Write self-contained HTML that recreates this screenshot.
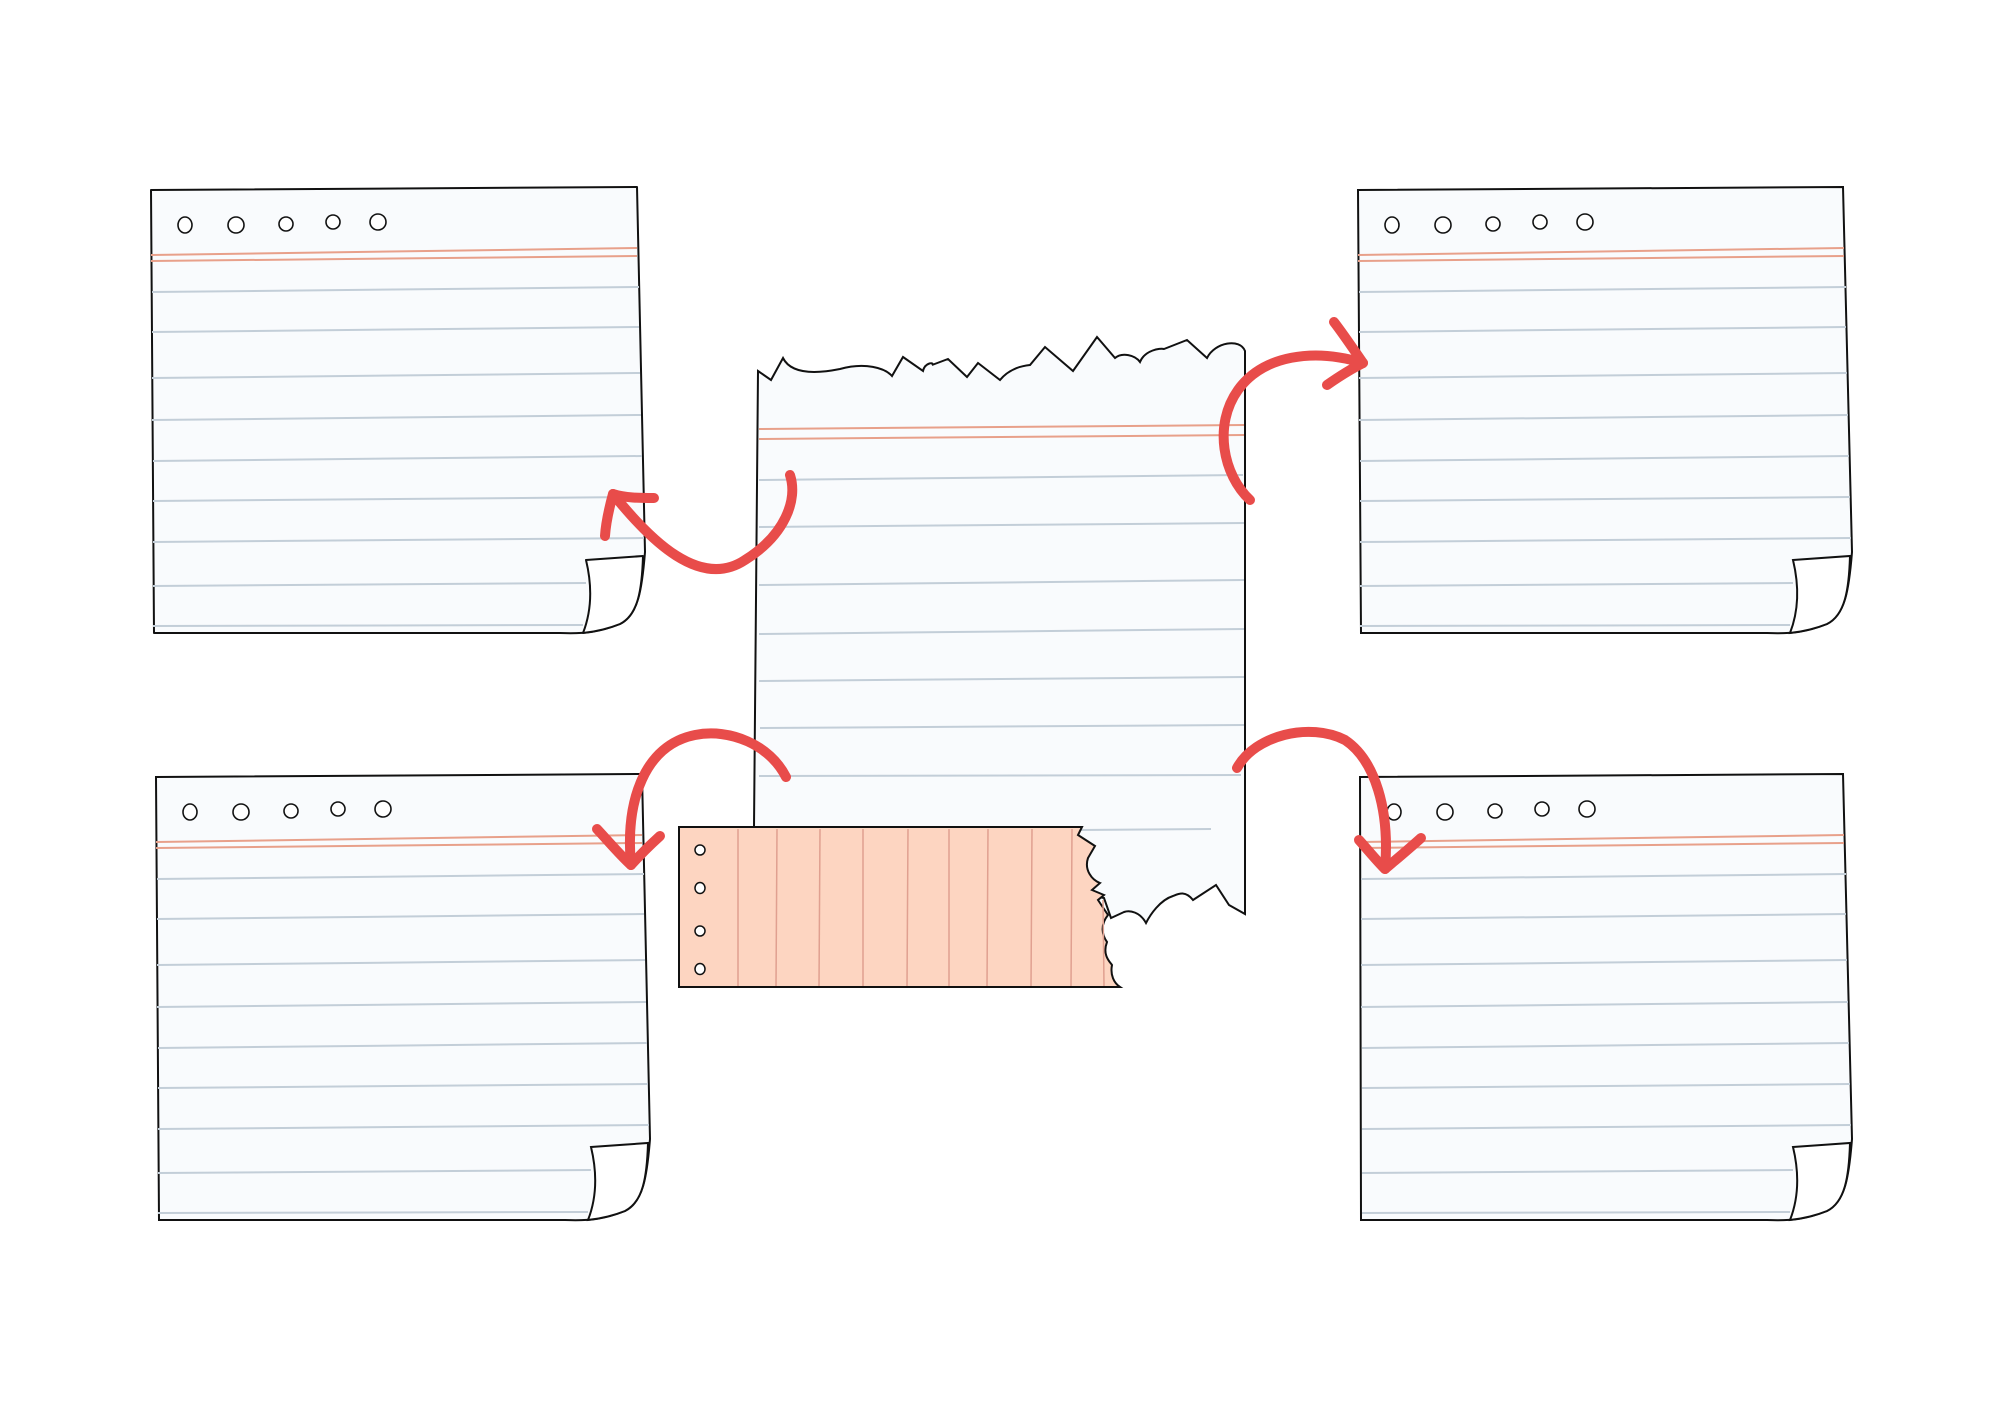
<!DOCTYPE html>
<html><head><meta charset="utf-8"><style>html,body{margin:0;padding:0;background:#fff}svg{display:block}</style></head>
<body>
<svg width="2000" height="1415" viewBox="0 0 2000 1415" xmlns="http://www.w3.org/2000/svg">
<rect width="2000" height="1415" fill="#fff"/>

<!-- Top-left -->
<g stroke-linejoin="round">
<path d="M151,190 L637,187 L645,552 C642,590 638,615 620,624 C600,632 585,634 560,633 L154,633 Z" fill="#f9fbfd" stroke="#111" stroke-width="2"/>
<g stroke="#e8a08a" stroke-width="2"><line x1="151" y1="255" x2="637" y2="248"/><line x1="151" y1="261" x2="637" y2="256"/></g>
<g stroke="#c3ced8" stroke-width="2"><line x1="152" y1="292" x2="639" y2="287"/><line x1="152" y1="332" x2="639" y2="327"/><line x1="152" y1="378" x2="640" y2="373"/><line x1="152" y1="420" x2="641" y2="415"/><line x1="153" y1="461" x2="642" y2="456"/><line x1="153" y1="501" x2="643" y2="497"/><line x1="153" y1="542" x2="644" y2="538"/><line x1="153" y1="586" x2="586" y2="583"/><line x1="153" y1="626" x2="583" y2="625"/></g>
<path d="M586,560 L643,556 C642,590 638,615 620,624 C605,630 592,632 583,633 C592,610 592,585 586,560 Z" fill="#fff" stroke="#111" stroke-width="2"/>
<g fill="#fff" stroke="#111" stroke-width="1.6"><ellipse cx="185" cy="225" rx="7" ry="8"/><ellipse cx="236" cy="225" rx="8" ry="8"/><ellipse cx="286" cy="224" rx="7" ry="7"/><ellipse cx="333" cy="222" rx="7" ry="7"/><ellipse cx="378" cy="222" rx="8" ry="8"/></g>
</g>

<!-- Top-right -->
<g transform="translate(1207,0)">
<path d="M151,190 L636,187 L645,552 C642,590 638,615 620,624 C600,632 585,634 560,633 L154,633 Z" fill="#f9fbfd" stroke="#111" stroke-width="2"/>
<g stroke="#e8a08a" stroke-width="2"><line x1="151" y1="255" x2="637" y2="248"/><line x1="151" y1="261" x2="637" y2="256"/></g>
<g stroke="#c3ced8" stroke-width="2"><line x1="152" y1="292" x2="639" y2="287"/><line x1="152" y1="332" x2="639" y2="327"/><line x1="152" y1="378" x2="640" y2="373"/><line x1="152" y1="420" x2="641" y2="415"/><line x1="153" y1="461" x2="642" y2="456"/><line x1="153" y1="501" x2="643" y2="497"/><line x1="153" y1="542" x2="644" y2="538"/><line x1="153" y1="586" x2="586" y2="583"/><line x1="153" y1="626" x2="583" y2="625"/></g>
<path d="M586,560 L643,556 C642,590 638,615 620,624 C605,630 592,632 583,633 C592,610 592,585 586,560 Z" fill="#fff" stroke="#111" stroke-width="2"/>
<g fill="#fff" stroke="#111" stroke-width="1.6"><ellipse cx="185" cy="225" rx="7" ry="8"/><ellipse cx="236" cy="225" rx="8" ry="8"/><ellipse cx="286" cy="224" rx="7" ry="7"/><ellipse cx="333" cy="222" rx="7" ry="7"/><ellipse cx="378" cy="222" rx="8" ry="8"/></g>
</g>

<!-- Bottom-left -->
<g transform="translate(5,587)">
<path d="M151,190 L637,187 L645,552 C642,590 638,615 620,624 C600,632 585,634 560,633 L154,633 Z" fill="#f9fbfd" stroke="#111" stroke-width="2"/>
<g stroke="#e8a08a" stroke-width="2"><line x1="151" y1="255" x2="637" y2="248"/><line x1="151" y1="261" x2="637" y2="256"/></g>
<g stroke="#c3ced8" stroke-width="2"><line x1="152" y1="292" x2="639" y2="287"/><line x1="152" y1="332" x2="639" y2="327"/><line x1="152" y1="378" x2="640" y2="373"/><line x1="152" y1="420" x2="641" y2="415"/><line x1="153" y1="461" x2="642" y2="456"/><line x1="153" y1="501" x2="643" y2="497"/><line x1="153" y1="542" x2="644" y2="538"/><line x1="153" y1="586" x2="586" y2="583"/><line x1="153" y1="626" x2="583" y2="625"/></g>
<path d="M586,560 L643,556 C642,590 638,615 620,624 C605,630 592,632 583,633 C592,610 592,585 586,560 Z" fill="#fff" stroke="#111" stroke-width="2"/>
<g fill="#fff" stroke="#111" stroke-width="1.6"><ellipse cx="185" cy="225" rx="7" ry="8"/><ellipse cx="236" cy="225" rx="8" ry="8"/><ellipse cx="286" cy="224" rx="7" ry="7"/><ellipse cx="333" cy="222" rx="7" ry="7"/><ellipse cx="378" cy="222" rx="8" ry="8"/></g>
</g>

<!-- Bottom-right -->
<g transform="translate(1209,587)">
<path d="M151,190 L634,187 L643,552 C640,590 636,615 618,624 C598,632 583,634 558,633 L152,633 Z" fill="#f9fbfd" stroke="#111" stroke-width="2"/>
<g stroke="#e8a08a" stroke-width="2"><line x1="151" y1="255" x2="635" y2="248"/><line x1="151" y1="261" x2="635" y2="256"/></g>
<g stroke="#c3ced8" stroke-width="2"><line x1="152" y1="292" x2="637" y2="287"/><line x1="152" y1="332" x2="637" y2="327"/><line x1="152" y1="378" x2="638" y2="373"/><line x1="152" y1="420" x2="639" y2="415"/><line x1="153" y1="461" x2="640" y2="456"/><line x1="153" y1="501" x2="641" y2="497"/><line x1="153" y1="542" x2="642" y2="538"/><line x1="153" y1="586" x2="584" y2="583"/><line x1="153" y1="626" x2="581" y2="625"/></g>
<path d="M584,560 L641,556 C640,590 636,615 618,624 C603,630 590,632 581,633 C590,610 590,585 584,560 Z" fill="#fff" stroke="#111" stroke-width="2"/>
<g fill="#fff" stroke="#111" stroke-width="1.6"><ellipse cx="185" cy="225" rx="7" ry="8"/><ellipse cx="236" cy="225" rx="8" ry="8"/><ellipse cx="286" cy="224" rx="7" ry="7"/><ellipse cx="333" cy="222" rx="7" ry="7"/><ellipse cx="378" cy="222" rx="8" ry="8"/></g>
</g>

<!-- Center torn paper -->
<path d="M758,371 L771,380 L783,358 C790,372 810,375 840,369 C865,362 885,368 892,376 L903,357 L923,371 C925,362 935,362 932,365 L948,359 L967,377 L978,363 L1000,380 C1008,370 1020,366 1030,365 L1045,347 L1073,371 L1097,337 L1115,358 C1122,352 1135,355 1140,362 C1145,350 1160,348 1164,349 L1187,340 L1207,358 C1215,342 1240,338 1245,351 L1245,914 L1229,905 L1216,885 L1193,900 C1185,890 1178,894 1173,896 C1160,900 1150,915 1146,923 C1140,912 1130,910 1124,912 L1111,918 L1104,898 L1093,896 L1000,985 L756,985 L754,827 Z" fill="#f9fbfd" stroke="#111" stroke-width="2"/>
<g stroke="#e8a08a" stroke-width="2"><line x1="759" y1="429" x2="1244" y2="425"/><line x1="759" y1="439" x2="1244" y2="435"/></g>
<g stroke="#c3ced8" stroke-width="2"><line x1="759" y1="480" x2="1243" y2="475"/><line x1="759" y1="527" x2="1244" y2="523"/><line x1="759" y1="585" x2="1244" y2="580"/><line x1="759" y1="634" x2="1244" y2="629"/><line x1="759" y1="681" x2="1244" y2="677"/><line x1="760" y1="728" x2="1244" y2="725"/><line x1="759" y1="776" x2="1241" y2="775"/><line x1="1080" y1="830" x2="1211" y2="829"/></g>

<!-- Tape -->
<path d="M679,827 L1082,827 L1078,835 L1095,846 L1088,858 C1084,870 1092,880 1100,883 L1092,890 L1104,895 L1098,900 L1108,915 C1100,925 1102,935 1107,942 C1102,955 1110,962 1112,965 C1110,975 1114,983 1120,987 L679,987 Z" fill="#fdd5c1" stroke="#111" stroke-width="2"/>
<g stroke="#e0a090" stroke-width="1.5"><line x1="738" y1="829" x2="738" y2="986"/><line x1="777" y1="829" x2="776" y2="986"/><line x1="820" y1="829" x2="819" y2="986"/><line x1="863" y1="829" x2="863" y2="986"/><line x1="908" y1="829" x2="907" y2="986"/><line x1="949" y1="829" x2="949" y2="986"/><line x1="988" y1="829" x2="987" y2="986"/><line x1="1032" y1="829" x2="1031" y2="986"/><line x1="1072" y1="829" x2="1071" y2="986"/><line x1="1103" y1="900" x2="1104" y2="986"/></g>
<g fill="#fff" stroke="#111" stroke-width="1.5"><ellipse cx="700" cy="850" rx="5" ry="5"/><ellipse cx="700" cy="888" rx="5" ry="5.5"/><ellipse cx="700" cy="931" rx="5" ry="5"/><ellipse cx="700" cy="969" rx="5" ry="5.5"/></g>

<!-- Arrows -->
<g fill="none" stroke="#e84c4a" stroke-width="10" stroke-linecap="round" stroke-linejoin="round">
<path d="M790,475 C798,500 785,535 745,560 C700,590 650,540 613,494"/>
<path d="M605,536 C606,520 610,505 613,494 C625,498 640,498 654,498"/>
<path d="M1250,500 C1223,475 1213,425 1238,390 C1263,355 1314,348 1363,363"/>
<path d="M1334,322 C1344,335 1354,350 1363,363 C1349,370 1337,378 1327,385"/>
<path d="M786,777 C770,745 730,728 695,735 C645,745 625,800 631,865"/>
<path d="M597,829 C610,843 620,855 631,865 C640,855 650,845 660,836"/>
<path d="M1237,768 C1255,735 1310,722 1345,740 C1375,760 1390,810 1385,869"/>
<path d="M1359,840 C1368,850 1376,860 1385,869 C1398,858 1410,848 1421,838"/>
</g>
</svg>
</body></html>
